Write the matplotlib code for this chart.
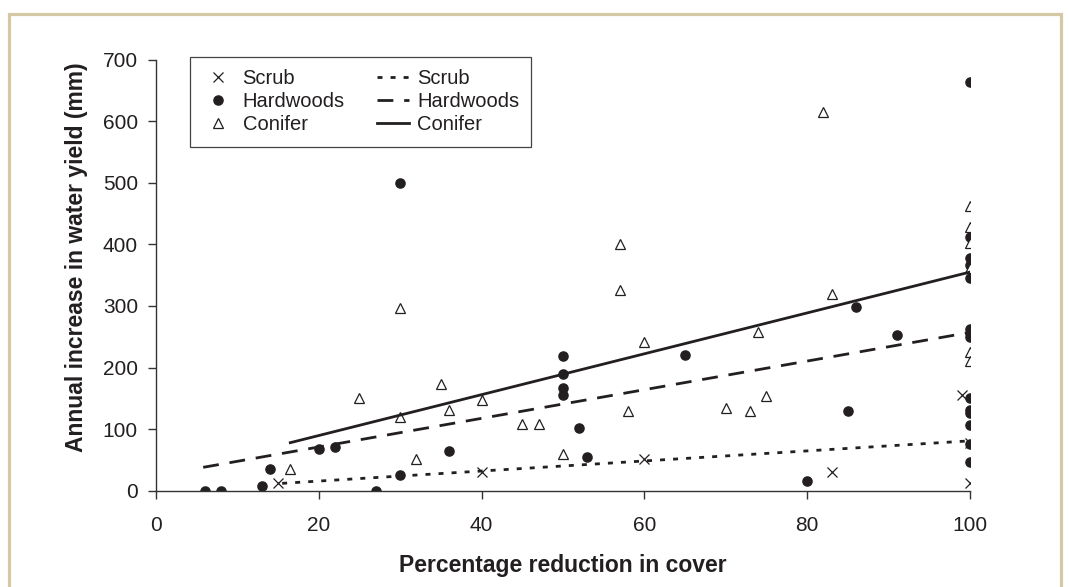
import matplotlib.pyplot as plt
from matplotlib.patches import Rectangle

plt.rcParams['font.family'] = ['Liberation Sans', 'DejaVu Sans']

# --- datos ---
scrub_x = [15, 40, 60, 83, 99, 100, 100]
scrub_y = [13, 30, 52, 30, 155, 78, 12]

hard_x = [6, 8, 13, 14, 20, 22, 27, 30, 30, 36, 50, 50, 50, 50, 52, 53, 65,
          80, 85, 86, 91, 100, 100, 100, 100, 100, 100, 100, 100, 100, 100,
          100, 100, 100, 100]
hard_y = [0, 0, 8, 36, 68, 71, 0, 500, 25, 64, 219, 189, 166, 156, 102, 55, 220,
          15, 130, 298, 253, 663, 412, 377, 366, 345, 263, 256, 249, 150, 131,
          126, 106, 76, 47]

conif_x = [16.5, 25, 30, 30, 32, 35, 36, 40, 45, 47, 50, 57, 57, 58, 60, 70,
           73, 74, 75, 82, 83, 100, 100, 100, 100, 100, 100]
conif_y = [36, 150, 297, 119, 52, 173, 131, 148, 108, 108, 60, 400, 326, 130,
           241, 135, 130, 258, 153, 615, 320, 463, 428, 402, 361, 226, 211]

# rectas de ajuste (extremos leidos)
scrub_fit_x = [15.5, 100]
scrub_fit_y = [12, 81]
hard_fit_x = [5.8, 100]
hard_fit_y = [38, 257]
conif_fit_x = [16.5, 100]
conif_fit_y = [78, 355]

negro = '#231f20'

fig = plt.figure(figsize=(10.69, 5.87), dpi=100)
ax = fig.add_axes([0.1459, 0.164, 0.7615, 0.7346])

# marco beige alrededor de la figura
fig.patches.append(Rectangle((9 / 1069, -0.1), 1052 / 1069, (587 - 14) / 587 + 0.1,
                             transform=fig.transFigure, fill=False,
                             edgecolor='#d5c9a5', linewidth=2.3))

h1, = ax.plot(scrub_x, scrub_y, linestyle='none', marker='x', markersize=7,
              markeredgewidth=0.9, color=negro, label='Scrub')
h2, = ax.plot(hard_x, hard_y, linestyle='none', marker='o', markersize=6.6,
              color=negro, label='Hardwoods')
h3, = ax.plot(conif_x, conif_y, linestyle='none', marker='^', markersize=7.2,
              markerfacecolor='white', markeredgecolor=negro, markeredgewidth=0.9,
              label='Conifer')

l1, = ax.plot(scrub_fit_x, scrub_fit_y, color=negro, linewidth=2,
              linestyle=(0, (1.8, 2.9)), label='Scrub')
l2, = ax.plot(hard_fit_x, hard_fit_y, color=negro, linewidth=2,
              linestyle=(0, (5.7, 3.9)), label='Hardwoods')
l3, = ax.plot(conif_fit_x, conif_fit_y, color=negro, linewidth=2,
              label='Conifer')

ax.set_xlim(0, 100)
ax.set_ylim(0, 700)
ax.set_xticks(range(0, 101, 20))
ax.set_yticks(range(0, 701, 100))

for s in ['top', 'right']:
    ax.spines[s].set_visible(False)
for s in ['left', 'bottom']:
    ax.spines[s].set_color('#333333')
    ax.spines[s].set_linewidth(1)
ax.tick_params(axis='both', direction='out', length=6, width=1, color='#333333',
               labelsize=15, labelcolor=negro)
ax.tick_params(axis='x', pad=12)
ax.tick_params(axis='y', pad=7)

ax.set_xlabel('Percentage reduction in cover', fontsize=16.5, fontweight='bold',
              color=negro, labelpad=14)
ax.set_ylabel('Annual increase in water yield (mm)', fontsize=16.5,
              fontweight='bold', color=negro)
ax.yaxis.set_label_coords(-0.084, 0.542)

leg = ax.legend(handles=[h1, h2, h3, l1, l2, l3], ncol=2, loc='upper left',
                bbox_to_anchor=(0.042, 1.006), fontsize=14.5, frameon=True,
                fancybox=False, framealpha=1, edgecolor='#444444',
                handlelength=1.6, handletextpad=0.4, columnspacing=1.6,
                borderpad=0.6, labelspacing=0.21, borderaxespad=0)
leg.get_frame().set_linewidth(0.9)
for t in leg.get_texts():
    t.set_color(negro)

fig.savefig('out.png', dpi=100)
